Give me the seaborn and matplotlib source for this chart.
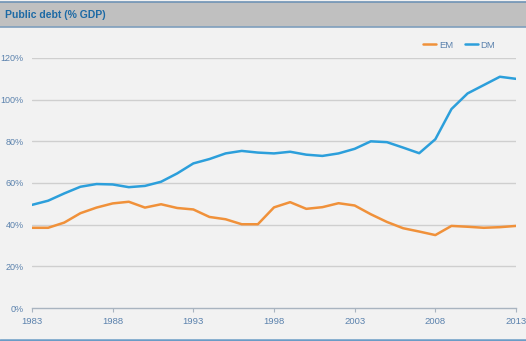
import matplotlib
matplotlib.use("Agg")
import matplotlib.pyplot as plt
from matplotlib.patches import Rectangle
from matplotlib.lines import Line2D
import seaborn as sns
import pandas as pd

years = list(range(1983, 2014))
em = [38.5, 38.5, 41.0, 45.5, 48.2, 50.2, 51.0, 48.2, 49.8, 48.0,
      47.3, 43.7, 42.6, 40.2, 40.2, 48.3, 50.8, 47.6, 48.4, 50.3,
      49.2, 45.0, 41.3, 38.3, 36.7, 35.0, 39.4, 39.0, 38.5, 38.8, 39.4]
dm = [49.5, 51.5, 55.0, 58.2, 59.5, 59.3, 58.0, 58.6, 60.6, 64.6,
      69.4, 71.5, 74.2, 75.4, 74.6, 74.2, 75.0, 73.6, 73.0, 74.2,
      76.4, 80.0, 79.6, 77.0, 74.3, 81.0, 95.5, 103.0, 107.0, 111.0, 110.0]
series_names = ["EM", "DM"]
y_ticks = [0, 20, 40, 60, 80, 100, 120]
x_ticks = [1983, 1988, 1993, 1998, 2003, 2008, 2013]

colors = {"EM": "#f0913a", "DM": "#2c9fdb"}
label_color = "#5b82ad"

df = pd.DataFrame({
    "year": years * 2,
    "debt": em + dm,
    "group": ["EM"] * len(years) + ["DM"] * len(years),
})

sns.set_theme(style="white")
plt.rcParams["font.family"] = ["Liberation Sans Narrow", "Liberation Sans", "DejaVu Sans"]

W, H = 526, 341
fig = plt.figure(figsize=(W / 100, H / 100), dpi=100, facecolor="#f2f2f2")

# header band
fig.patches.append(Rectangle((0, 1 - 27 / H), 1, 25 / H, transform=fig.transFigure,
                             facecolor="#c0c0c0", edgecolor="none", zorder=0))
for yy, c, lw in [(2, "#6f93b5", 1.2), (27, "#7f9fbd", 1.2), (339.5, "#6a9cc6", 1.8)]:
    fig.add_artist(Line2D([0, 1], [1 - yy / H] * 2, transform=fig.transFigure,
                          color=c, lw=lw))
fig.text(5 / W, 1 - 15 / H, "Public debt (% GDP)", fontsize=7.5, fontweight="bold",
         color="#1d6aa5", va="center", ha="left",
         family=["Liberation Sans", "DejaVu Sans"])

left, right = 32 / W, 516 / W
bottom, top = 1 - 308 / H, 1 - 58 / H
ax = fig.add_axes([left, bottom, right - left, top - bottom])
ax.set_facecolor("none")

sns.lineplot(data=df, x="year", y="debt", hue="group", hue_order=series_names,
             palette=colors, linewidth=1.8, ax=ax, legend=False)

ax.set_xlim(1983, 2013)
ax.set_ylim(0, 120)
ax.set_yticks(y_ticks)
ax.set_yticklabels([f"{v}%" for v in y_ticks])
ax.set_xticks(x_ticks)
ax.set_xticklabels([str(v) for v in x_ticks])
ax.set_xlabel("")
ax.set_ylabel("")
for v in y_ticks[1:]:
    ax.axhline(v, color="#cfcfcf", lw=1.0, zorder=0)
for s in ["top", "right", "left"]:
    ax.spines[s].set_visible(False)
ax.spines["bottom"].set_color("#a9b4c0")
ax.spines["bottom"].set_linewidth(1.0)
ax.tick_params(axis="y", length=0, pad=6, labelsize=6.5, labelcolor=label_color)
ax.tick_params(axis="x", length=3, width=0.8, color="#a9b4c0", direction="out",
               pad=3.5, labelsize=6.8, labelcolor=label_color, bottom=True)

# legend
handles = [Line2D([], [], color=colors[n], lw=1.8) for n in series_names]
fig.legend(handles, series_names, loc="center right", bbox_to_anchor=(504 / W, 1 - 45 / H),
           ncol=2, frameon=False, fontsize=6.8, handlelength=1.4, handletextpad=0.25,
           columnspacing=1.3, labelcolor=label_color)

fig.savefig("out.png", dpi=100, facecolor=fig.get_facecolor())
